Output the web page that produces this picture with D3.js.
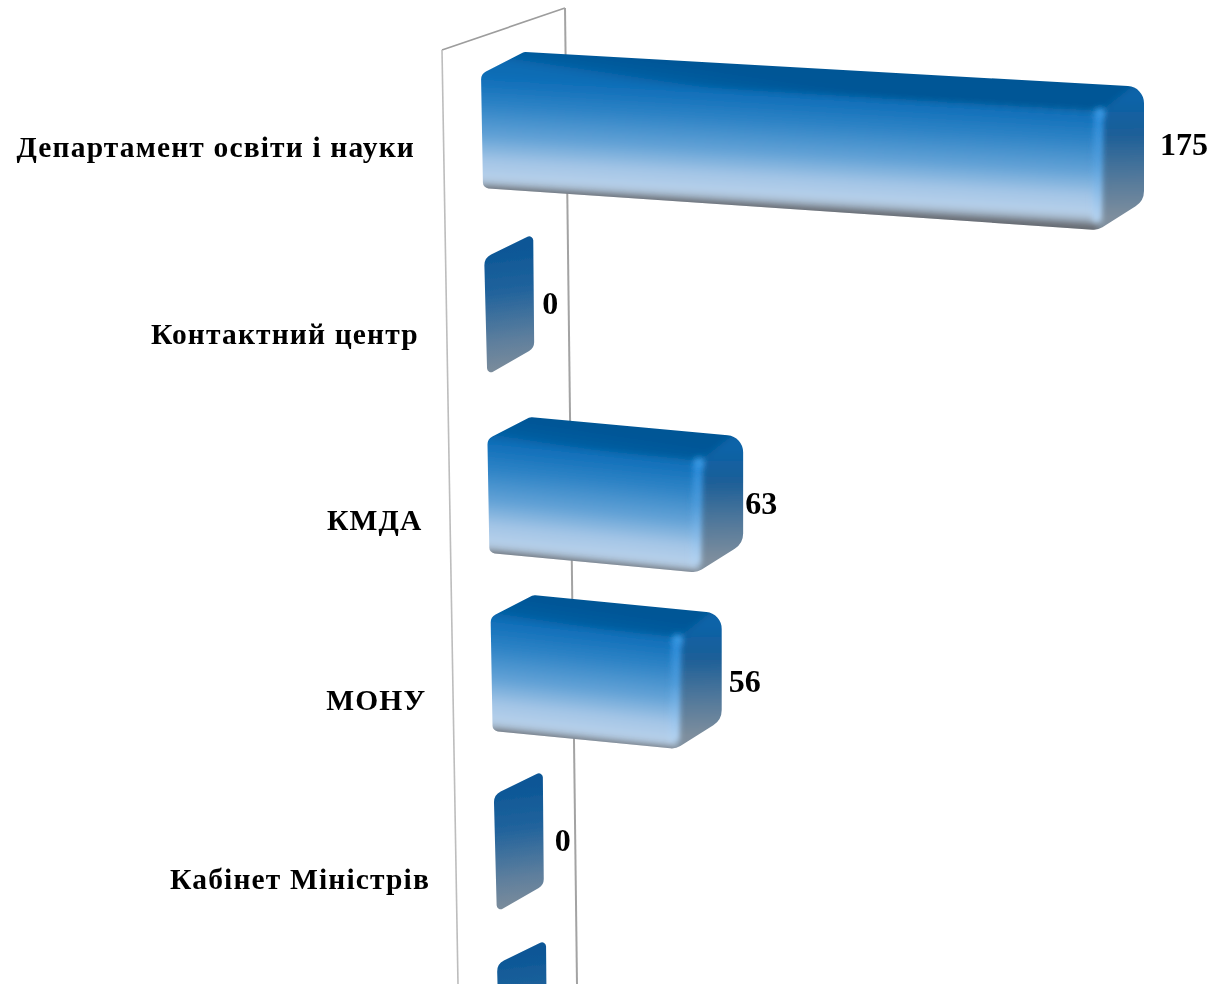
<!DOCTYPE html>
<html><head><meta charset="utf-8">
<script src="https://cdn.jsdelivr.net/npm/d3@7"></script>
<style>html,body{margin:0;padding:0;background:#fff;overflow:hidden}svg{display:block}text{font-family:"Liberation Serif","Times New Roman",serif;font-weight:bold;fill:#000}</style>
</head><body><div id="c"></div>
<script>
const categories = ["Департамент освіти і науки","Контактний центр","КМДА","МОНУ","Кабінет Міністрів",""];
const values = [175,0,63,56,0,0];
const valueNudgeX = [17,9,3,8,12,0];
const valueNudgeY = [2,7,11,13,7,0];

const W=1231,H=984;
const svg=d3.select("#c").append("svg").attr("width",W).attr("height",H);
const defs=svg.append("defs");
const soft=defs.append("filter").attr("id","soft").attr("x","-5%").attr("y","-5%").attr("width","110%").attr("height","110%");
soft.append("feGaussianBlur").attr("stdDeviation",0.7);
const blur=defs.append("filter").attr("id","blur").attr("filterUnits","userSpaceOnUse").attr("x",0).attr("y",0).attr("width",W).attr("height",H);
blur.append("feGaussianBlur").attr("stdDeviation",3);
const seam=defs.append("filter").attr("id","seam").attr("filterUnits","userSpaceOnUse").attr("x",0).attr("y",0).attr("width",W).attr("height",H);
seam.append("feGaussianBlur").attr("stdDeviation",3.2);

// perspective layout expressed as scales
const idx=d3.range(categories.length);
const rowY=d3.scaleLinear().domain(idx).range([74,258,439,617,795,964]);
const rowX=d3.scaleLinear().domain([0,5]).range([481,497]);
const x=d3.scalePow().exponent(1.05).domain([0,175]).range([0,619]);
const topDrop=d3.scalePow().exponent(0.5).domain([0,175]).range([0,38]);
const botDrop=d3.scalePow().exponent(0.75).domain([0,175]).range([0,42]);
const barH=114, dx=43, dy=-23;

// wall
const wall=svg.append("g").attr("fill","none");
const wallLine=d3.line();
wall.append("path").attr("d",wallLine([[442,50],[565,8]])).attr("stroke","#9d9d9d").attr("stroke-width",1.6);
wall.append("path").attr("d",wallLine([[442,50],[458,984]])).attr("stroke","#bdbdbd").attr("stroke-width",1.6);
wall.append("path").attr("d",wallLine([[565,8],[577,984]])).attr("stroke","#a3a3a3").attr("stroke-width",2);

function rounded(pts,radii){
  const p=d3.path(),n=pts.length;
  const a=pts[n-1],b=pts[0];
  p.moveTo((a[0]+b[0])/2,(a[1]+b[1])/2);
  for(let i=0;i<n;i++){const c=pts[i],d=pts[(i+1)%n];p.arcTo(c[0],c[1],(c[0]+d[0])/2,(c[1]+d[1])/2,radii[i]);}
  p.closePath();return p.toString();
}
function grad(id,p1,p2,stops){
  const g=defs.append("linearGradient").attr("id",id).attr("gradientUnits","userSpaceOnUse")
    .attr("x1",p1[0]).attr("y1",p1[1]).attr("x2",p2[0]).attr("y2",p2[1]);
  stops.forEach(s=>g.append("stop").attr("offset",s[0]).attr("stop-color",s[1]));
}
const frontStops=[[0,"#0d6cb4"],[0.1,"#1270ba"],[0.3,"#2f84c6"],[0.55,"#63a2d6"],[0.75,"#a3c5e6"],[0.89,"#b6d0ea"],[0.94,"#a4b6c8"],[0.98,"#767d86"],[1,"#666b72"]];
const sideStops=[[0,"#0b63a8"],[0.3,"#1c5f98"],[0.7,"#577b9b"],[1,"#7f8f9e"]];

const bars=svg.append("g").attr("filter","url(#soft)");
idx.forEach(i=>{
  const v=values[i],x0=rowX(i),y0=rowY(i);
  const g=bars.append("g");
  if(v===0){
    const q=[[x0,y0],[x0+dx+6,y0+dy-1],[x0+dx+7,y0+barH+dy-1],[x0+3,y0+barH+3]];
    grad("z"+i,[x0+15,y0-10],[x0+30,y0+barH],[[0,"#0a5696"],[0.35,"#21639c"],[0.75,"#5f7f9d"],[1,"#7d8d9b"]]);
    g.append("path").attr("d",rounded(q,[12,4,10,4])).attr("fill",`url(#z${i})`);
    return;
  }
  const w=x(v);
  const ftl=[x0,y0], ftr=[x0+w,y0+topDrop(v)];
  const fbl=[x0+2,y0+barH], fbr=[x0+w-2,y0+barH+botDrop(v)];
  const btl=[x0+dx,y0+dy+1], btr=[ftr[0]+dx+1,ftr[1]+dy-2];
  const obr=[fbr[0]+dx+3,fbr[1]+dy-6];
  const sil=[ftl,btl,btr,obr,fbr,fbl];
  const cid="clip"+i;
  defs.append("clipPath").attr("id",cid).append("path").attr("d",rounded(sil,[9,6,17,18,16,6]));
  const c=g.append("g").attr("clip-path",`url(#${cid})`);
  const faces=c.append("g").attr("filter","url(#seam)");
  // top face
  grad("t"+i,[x0+w/2,ftr[1]+dy-10],[x0+w/2-4,ftr[1]-6],[[0,"#005696"],[0.6,"#025c9f"],[1,"#0d6cb4"]]);
  faces.append("polygon").attr("points",[[ftl[0]-20,ftl[1]],[btl[0]-20,btl[1]-20],[btr[0]+20,btr[1]-20],ftr].map(String).join(" ")).attr("fill",`url(#t${i})`);
  // right side face
  grad("s"+i,[ftr[0]+20,ftr[1]-14],[ftr[0]+22,fbr[1]-12],sideStops);
  faces.append("polygon").attr("points",[ftr,[btr[0],btr[1]-10],[btr[0]+30,btr[1]-10],[obr[0]+30,obr[1]+10],[fbr[0],fbr[1]+30],fbr].map(String).join(" ")).attr("fill",`url(#s${i})`);
  // front face, gradient skewed along the bar
  const slope=(ftr[1]-ftl[1])/w;
  const mid=x0+w/2;
  const gy=y0+slope*w/2;
  const len=barH+2;
  const nx=-slope*len*0.5;
  grad("f"+i,[mid-nx,gy-6],[mid+nx,gy+len],frontStops);
  faces.append("polygon").attr("points",[[ftl[0]-20,ftl[1]-1],ftr,[fbr[0],fbr[1]+14],[fbl[0]-20,fbl[1]+14]].map(String).join(" ")).attr("fill",`url(#f${i})`);
  // soft vertical edge highlight between front and side
  grad("h"+i,ftr,fbr,[[0,"#2a8ee0"],[0.4,"#4f9fe0"],[0.8,"#a5cdf3"],[1,"#c3def7"]]);
  c.append("path").attr("d",d3.line()([[ftr[0]-1,ftr[1]+2],[fbr[0]-1,fbr[1]-8]])).attr("stroke",`url(#h${i})`).attr("stroke-width",8).attr("fill","none").attr("filter","url(#blur)");
  c.append("circle").attr("cx",ftr[0]).attr("cy",ftr[1]+1).attr("r",5).attr("fill","#3d9fea").attr("filter","url(#blur)");
  // bottom shading
  c.append("path").attr("d",d3.line()([[fbl[0],fbl[1]+1],[fbr[0],fbr[1]+1]])).attr("stroke","#676c72").attr("stroke-width",2.5).attr("fill","none").attr("filter","url(#blur)");
});

// category labels
const labelEnd=d3.scaleLinear().domain([0,4]).range([415,430]);
const labelY=d3.scaleLinear().domain([0,2,4]).range([148,521,880]);
svg.append("g").selectAll("text").data(idx.filter(i=>categories[i])).join("text")
  .attr("x",i=>labelEnd(i)).attr("y",i=>labelY(i)+9).attr("text-anchor","end")
  .attr("font-size",29.5).attr("letter-spacing",1.15).text(i=>categories[i]);

// value labels
svg.append("g").selectAll("text").data(idx.slice(0,5)).join("text")
  .attr("x",i=>{const v=values[i];return (v===0?rowX(i)+dx+6:x(v)+rowX(i)+dx)+valueNudgeX[i];})
  .attr("y",i=>{const v=values[i],t=rowY(i)+barH/2+(v?topDrop(v):0)-26;return t+10+valueNudgeY[i]+(v?0:8);})
  .attr("font-size",32).text(i=>values[i]);
</script></body></html>
